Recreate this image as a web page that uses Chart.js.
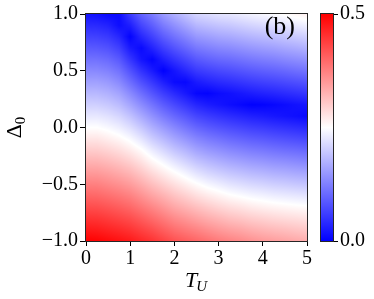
<!DOCTYPE html>
<html><head><meta charset="utf-8">
<script src="https://cdn.jsdelivr.net/npm/chart.js@4/dist/chart.umd.min.js"></script>
<style>
html,body{margin:0;padding:0;background:#fff;}
#wrap{position:relative;width:374px;height:299px;overflow:hidden;}
#main{position:absolute;left:0;top:0;}
#cb{position:absolute;left:300px;top:0;}
</style></head><body>
<div id="wrap"><canvas id="main" width="374" height="299"></canvas><canvas id="cb" width="74" height="299"></canvas></div>
<script>
// T_U grid (columns)
const tValues = [0, 0.25, 0.5, 0.75, 1, 1.25, 1.5, 1.75, 2, 2.25, 2.5, 2.75, 3, 3.25, 3.5, 3.75, 4, 4.25, 4.5, 4.75, 5];
// Delta_0 grid (rows, top to bottom)
const deltaValues = [1.0, 0.9, 0.8, 0.7, 0.6, 0.5, 0.4, 0.3, 0.2, 0.1, 0.0, -0.1, -0.2, -0.3, -0.4, -0.5, -0.6, -0.7, -0.8, -0.9, -1.0];
// estimated colour value at each (Delta_0 row, T_U column)
const gapValues = [
  [0.019, 0.016, 0.009, 0.011, 0.058, 0.096, 0.121, 0.151, 0.172, 0.191, 0.210, 0.216, 0.223, 0.226, 0.232, 0.238, 0.243, 0.247, 0.253, 0.259, 0.265],
  [0.042, 0.040, 0.033, 0.013, 0.030, 0.067, 0.092, 0.120, 0.141, 0.160, 0.179, 0.186, 0.192, 0.196, 0.202, 0.208, 0.213, 0.217, 0.223, 0.229, 0.235],
  [0.065, 0.063, 0.056, 0.038, 0.003, 0.038, 0.063, 0.090, 0.111, 0.129, 0.148, 0.155, 0.162, 0.166, 0.172, 0.178, 0.183, 0.187, 0.193, 0.198, 0.204],
  [0.088, 0.086, 0.079, 0.062, 0.025, 0.009, 0.034, 0.060, 0.081, 0.099, 0.117, 0.125, 0.132, 0.136, 0.142, 0.148, 0.153, 0.157, 0.163, 0.168, 0.174],
  [0.111, 0.110, 0.103, 0.087, 0.052, 0.020, 0.004, 0.030, 0.050, 0.068, 0.086, 0.095, 0.102, 0.106, 0.112, 0.118, 0.123, 0.127, 0.133, 0.138, 0.143],
  [0.134, 0.133, 0.126, 0.111, 0.080, 0.049, 0.025, 0.000, 0.020, 0.038, 0.056, 0.064, 0.071, 0.076, 0.082, 0.088, 0.093, 0.097, 0.102, 0.108, 0.113],
  [0.157, 0.157, 0.150, 0.135, 0.107, 0.078, 0.054, 0.030, 0.010, 0.007, 0.025, 0.034, 0.041, 0.046, 0.052, 0.058, 0.063, 0.067, 0.072, 0.077, 0.082],
  [0.181, 0.180, 0.173, 0.160, 0.135, 0.108, 0.083, 0.060, 0.041, 0.024, 0.006, 0.003, 0.011, 0.016, 0.022, 0.028, 0.033, 0.037, 0.042, 0.047, 0.052],
  [0.204, 0.203, 0.196, 0.184, 0.162, 0.137, 0.113, 0.090, 0.071, 0.054, 0.037, 0.027, 0.020, 0.013, 0.007, 0.001, 0.003, 0.007, 0.012, 0.017, 0.021],
  [0.227, 0.227, 0.220, 0.209, 0.190, 0.166, 0.142, 0.120, 0.101, 0.085, 0.068, 0.058, 0.050, 0.043, 0.037, 0.031, 0.027, 0.022, 0.018, 0.014, 0.009],
  [0.250, 0.250, 0.243, 0.233, 0.217, 0.195, 0.171, 0.151, 0.132, 0.115, 0.099, 0.088, 0.080, 0.073, 0.067, 0.061, 0.057, 0.052, 0.048, 0.044, 0.040],
  [0.275, 0.275, 0.267, 0.258, 0.244, 0.224, 0.200, 0.181, 0.162, 0.146, 0.130, 0.119, 0.111, 0.103, 0.097, 0.091, 0.087, 0.082, 0.078, 0.074, 0.070],
  [0.300, 0.299, 0.292, 0.283, 0.270, 0.253, 0.230, 0.211, 0.192, 0.177, 0.160, 0.149, 0.141, 0.133, 0.127, 0.121, 0.117, 0.112, 0.108, 0.105, 0.101],
  [0.325, 0.324, 0.317, 0.308, 0.296, 0.279, 0.258, 0.241, 0.223, 0.207, 0.191, 0.180, 0.171, 0.163, 0.157, 0.151, 0.147, 0.142, 0.139, 0.135, 0.131],
  [0.350, 0.349, 0.342, 0.333, 0.322, 0.305, 0.286, 0.269, 0.253, 0.238, 0.222, 0.210, 0.201, 0.193, 0.187, 0.181, 0.177, 0.172, 0.169, 0.165, 0.162],
  [0.375, 0.374, 0.366, 0.358, 0.347, 0.331, 0.313, 0.297, 0.281, 0.267, 0.253, 0.241, 0.232, 0.223, 0.217, 0.211, 0.207, 0.202, 0.199, 0.195, 0.192],
  [0.400, 0.398, 0.391, 0.383, 0.373, 0.357, 0.340, 0.325, 0.309, 0.296, 0.282, 0.271, 0.262, 0.253, 0.247, 0.241, 0.237, 0.232, 0.229, 0.226, 0.223],
  [0.425, 0.423, 0.416, 0.408, 0.398, 0.383, 0.368, 0.352, 0.336, 0.324, 0.312, 0.301, 0.291, 0.283, 0.277, 0.270, 0.265, 0.261, 0.258, 0.255, 0.253],
  [0.450, 0.448, 0.441, 0.433, 0.424, 0.410, 0.395, 0.380, 0.364, 0.353, 0.341, 0.330, 0.321, 0.312, 0.306, 0.299, 0.294, 0.289, 0.285, 0.282, 0.278],
  [0.475, 0.472, 0.465, 0.458, 0.449, 0.436, 0.423, 0.407, 0.392, 0.381, 0.371, 0.360, 0.350, 0.342, 0.336, 0.328, 0.322, 0.317, 0.313, 0.308, 0.304],
  [0.500, 0.497, 0.490, 0.483, 0.475, 0.462, 0.450, 0.435, 0.420, 0.410, 0.400, 0.390, 0.380, 0.372, 0.365, 0.357, 0.350, 0.345, 0.340, 0.335, 0.330]
];
const xTicks = [0, 1, 2, 3, 4, 5];
const yTicks = [-1.0, -0.5, 0.0, 0.5, 1.0];
const cbTicks = [0.0, 0.5];
const vMin = 0.0, vMax = 0.5;
const panelLabel = '(b)';

const FONT = '"Liberation Serif", "DejaVu Serif", serif';
const fmt = v => v.toFixed(1).replace('-', '\u2212');

function bwr(v) {
  let n = (v - vMin) / (vMax - vMin);
  n = Math.max(0, Math.min(1, n));
  if (n < 0.5) { const t = 2 * n; return [Math.round(255 * t), Math.round(255 * t), 255]; }
  const t = 2 * (1 - n); return [255, Math.round(255 * t), Math.round(255 * t)];
}

function sampleGrid(T, D) {
  const nC = tValues.length, nR = deltaValues.length;
  let fj = (T - tValues[0]) / (tValues[nC - 1] - tValues[0]) * (nC - 1);
  let fi = (deltaValues[0] - D) / (deltaValues[0] - deltaValues[nR - 1]) * (nR - 1);
  fj = Math.max(0, Math.min(nC - 1, fj)); fi = Math.max(0, Math.min(nR - 1, fi));
  const j0 = Math.min(nC - 2, Math.floor(fj)), i0 = Math.min(nR - 2, Math.floor(fi));
  const a = fj - j0, b = fi - i0;
  const v00 = gapValues[i0][j0], v01 = gapValues[i0][j0 + 1];
  const v10 = gapValues[i0 + 1][j0], v11 = gapValues[i0 + 1][j0 + 1];
  return (v00 * (1 - a) + v01 * a) * (1 - b) + (v10 * (1 - a) + v11 * a) * b;
}

const heatPlugin = {
  id: 'heat',
  beforeDatasetsDraw(chart) {
    const { ctx, chartArea: ar, scales: { x, y } } = chart;
    const L = Math.round(ar.left), Tp = Math.round(ar.top);
    const w = Math.round(ar.right) - L, h = Math.round(ar.bottom) - Tp;
    const off = document.createElement('canvas'); off.width = w; off.height = h;
    const octx = off.getContext('2d');
    const img = octx.createImageData(w, h);
    for (let py = 0; py < h; py++) {
      const D = y.getValueForPixel(Tp + py + 0.5);
      for (let px = 0; px < w; px++) {
        const T = x.getValueForPixel(L + px + 0.5);
        const c = bwr(sampleGrid(T, D));
        const k = (py * w + px) * 4;
        img.data[k] = c[0]; img.data[k + 1] = c[1]; img.data[k + 2] = c[2]; img.data[k + 3] = 255;
      }
    }
    octx.putImageData(img, 0, 0);
    ctx.drawImage(off, L, Tp);
  },
  afterDraw(chart) {
    const { ctx, chartArea: ar } = chart;
    ctx.save();
    ctx.strokeStyle = '#262626'; ctx.lineWidth = 1;
    ctx.strokeRect(Math.round(ar.left) - 0.5, Math.round(ar.top) - 0.5, Math.round(ar.right - ar.left) + 1, Math.round(ar.bottom - ar.top) + 1);
    ctx.fillStyle = '#000';
    // panel label
    ctx.font = '26px ' + FONT; ctx.textAlign = 'right'; ctx.textBaseline = 'alphabetic';
    ctx.fillText(panelLabel, 295, 34);
    // x title T_U
    const cx = (ar.left + ar.right) / 2;
    ctx.textAlign = 'left';
    ctx.font = 'italic 22px ' + FONT;
    const wT = ctx.measureText('T').width;
    ctx.font = 'italic 15px ' + FONT;
    const wU = ctx.measureText('U').width;
    const x0 = cx - (wT + wU) / 2;
    ctx.font = 'italic 22px ' + FONT;
    ctx.fillText('T', x0, 287);
    ctx.font = 'italic 15px ' + FONT;
    ctx.fillText('U', x0 + wT - 1, 291);
    // y title Delta_0
    const cy = (ar.top + ar.bottom) / 2;
    ctx.save();
    ctx.translate(21, cy);
    ctx.rotate(-Math.PI / 2);
    ctx.font = '22px ' + FONT;
    const wD = ctx.measureText('\u0394').width;
    ctx.font = '15px ' + FONT;
    const w0 = ctx.measureText('0').width;
    const s0 = -(wD + w0) / 2;
    ctx.font = '22px ' + FONT;
    ctx.fillText('\u0394', s0, 0);
    ctx.font = '15px ' + FONT;
    ctx.fillText('0', s0 + wD, 4);
    ctx.restore();
    ctx.restore();
  }
};

const gridPoints = [];
deltaValues.forEach((d, i) => tValues.forEach((t, j) => gridPoints.push({ x: t, y: d, v: gapValues[i][j] })));

new Chart(document.getElementById('main'), {
  type: 'scatter',
  data: { datasets: [{ data: gridPoints, pointRadius: 0, pointHoverRadius: 0, showLine: false }] },
  options: {
    responsive: false, animation: false, devicePixelRatio: 1,
    layout: { padding: { left: 0, top: 12, right: 67, bottom: 0 } },
    plugins: { legend: { display: false }, tooltip: { enabled: false } },
    events: [],
    scales: {
      x: {
        type: 'linear', min: 0, max: 5,
        afterBuildTicks: s => { s.ticks = xTicks.map(v => ({ value: v })); },
        afterFit: s => { s.height = 58; },
        ticks: { color: '#000', font: { family: FONT, size: 20 }, padding: 1, callback: v => String(v), maxRotation: 0 },
        grid: { drawOnChartArea: false, drawTicks: true, tickLength: 5, color: '#000', tickWidth: 1 },
        border: { display: false }
      },
      y: {
        type: 'linear', min: -1, max: 1,
        afterBuildTicks: s => { s.ticks = yTicks.map(v => ({ value: v })); },
        afterFit: s => { s.width = 86; },
        ticks: { color: '#000', font: { family: FONT, size: 20 }, padding: 2, callback: v => fmt(v) },
        grid: { drawOnChartArea: false, drawTicks: true, tickLength: 6, color: '#000', tickWidth: 1 },
        border: { display: false }
      }
    }
  },
  plugins: [heatPlugin]
});

const cbPlugin = {
  id: 'cbar',
  beforeDatasetsDraw(chart) {
    const { ctx, chartArea: ar, scales: { y } } = chart;
    const y0 = y.getPixelForValue(vMin), y1 = y.getPixelForValue(vMax);
    const g = ctx.createLinearGradient(0, y0, 0, y1);
    const steps = 10;
    for (let i = 0; i <= steps; i++) {
      const v = vMin + (vMax - vMin) * i / steps;
      const c = bwr(v);
      g.addColorStop(i / steps, 'rgb(' + c.join(',') + ')');
    }
    ctx.fillStyle = g;
    ctx.fillRect(ar.left, ar.top, ar.right - ar.left, ar.bottom - ar.top);
  },
  afterDraw(chart) {
    const { ctx, chartArea: ar } = chart;
    ctx.save();
    ctx.strokeStyle = '#262626'; ctx.lineWidth = 1;
    ctx.strokeRect(Math.round(ar.left) - 0.5, Math.round(ar.top) - 0.5, Math.round(ar.right - ar.left) + 1, Math.round(ar.bottom - ar.top) + 1);
    ctx.restore();
  }
};

new Chart(document.getElementById('cb'), {
  type: 'scatter',
  data: { datasets: [{ data: cbTicks.map(v => ({ x: 0.5, y: v })), pointRadius: 0, pointHoverRadius: 0 }] },
  options: {
    responsive: false, animation: false, devicePixelRatio: 1,
    layout: { padding: { left: 21, top: 12, right: 0, bottom: 58 } },
    plugins: { legend: { display: false }, tooltip: { enabled: false } },
    events: [],
    scales: {
      x: { type: 'linear', min: 0, max: 1, display: false },
      y: {
        type: 'linear', position: 'right', min: vMin, max: vMax,
        afterBuildTicks: s => { s.ticks = cbTicks.map(v => ({ value: v })); },
        afterFit: s => { s.width = 41; },
        ticks: { color: '#000', font: { family: FONT, size: 20 }, padding: 2, callback: v => fmt(v) },
        grid: { drawOnChartArea: false, drawTicks: true, tickLength: 5, color: '#000', tickWidth: 1 },
        border: { display: false }
      }
    }
  },
  plugins: [cbPlugin]
});
</script>
</body></html>
